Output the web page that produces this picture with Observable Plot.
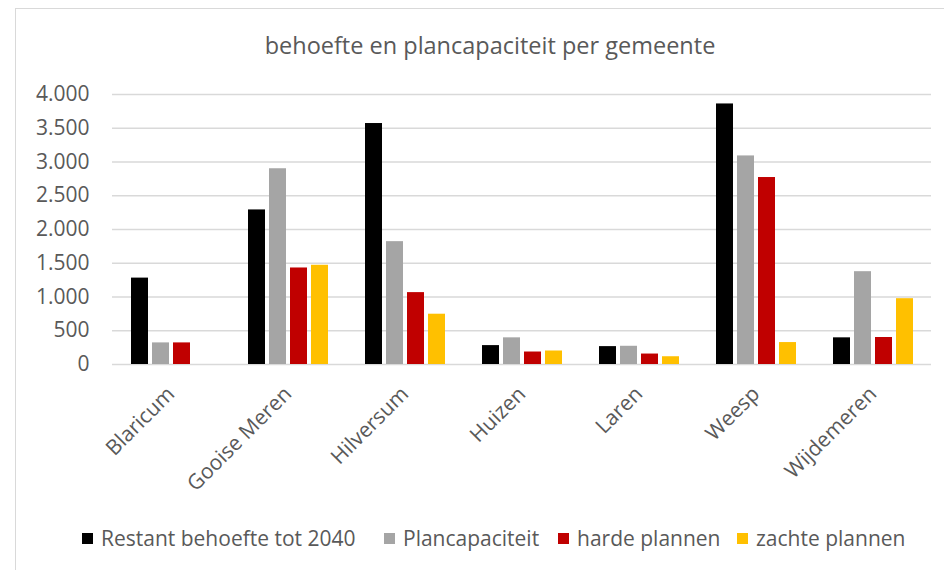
<!DOCTYPE html>
<html>
<head>
<meta charset="utf-8">
<script src="https://cdn.jsdelivr.net/npm/d3@7"></script>
<script src="https://cdn.jsdelivr.net/npm/@observablehq/plot@0.6"></script>
<style>
  html, body { margin: 0; padding: 0; background: #fff; }
  body { width: 944px; height: 570px; position: relative; overflow: hidden; font-family: "Open Sans", sans-serif; color: #595959; }
  #frame { position: absolute; left: 15px; top: 8px; width: 960px; height: 600px; border-left: 1.5px solid #d9d9d9; border-top: 1.5px solid #d9d9d9; }
  #title { position: absolute; left: 0; top: 29px; width: 980px; text-align: center; font-size: 23.5px; color: #595959; white-space: nowrap; }
  #chart { position: absolute; left: 0; top: 70px; }
  .leg { position: absolute; top: 524px; display: flex; align-items: center; font-size: 21px; color: #595959; white-space: nowrap; }
  .leg span.sw { display: inline-block; width: 11px; height: 11px; margin-right: 8px; }
</style>
</head>
<body>
<div id="frame"></div>
<div id="title">behoefte en plancapaciteit per gemeente</div>
<div id="chart"></div>
<div id="legend"></div>
<script>
const gemeenten = ["Blaricum", "Gooise Meren", "Hilversum", "Huizen", "Laren", "Weesp", "Wijdemeren"];
const series = ["Restant behoefte tot 2040", "Plancapaciteit", "harde plannen", "zachte plannen"];
const restant = [1280, 2290, 3570, 280, 265, 3860, 395];
const plancapaciteit = [320, 2900, 1820, 395, 270, 3090, 1375];
const harde = [320, 1430, 1065, 185, 155, 2770, 400];
const zachte = [0, 1470, 745, 200, 115, 325, 975];
const colors = ["#000000", "#A5A5A5", "#C00000", "#FFC000"];
const yTicks = [0, 500, 1000, 1500, 2000, 2500, 3000, 3500, 4000];
const legendLeft = [82, 384, 558, 737];

const valueArrays = [restant, plancapaciteit, harde, zachte];
const data = [];
gemeenten.forEach((g, i) => {
  series.forEach((s, j) => {
    data.push({ gemeente: g, serie: s, waarde: valueArrays[j][i] });
  });
});

const nl = d3.formatLocale({ decimal: ",", thousands: ".", grouping: [3], currency: ["€", ""] });
const fmt = nl.format(",");

const chart = Plot.plot({
  width: 944,
  height: 430,
  marginLeft: 110,
  marginRight: 11,
  marginTop: 24,
  marginBottom: 136,
  style: { fontFamily: "Open Sans, sans-serif", fontSize: "21px", color: "#595959", background: "transparent", overflow: "visible" },
  fx: { domain: gemeenten, padding: 0, label: null, tickRotate: -45, tickSize: 0, tickPadding: 26 },
  x: { domain: series, paddingInner: 0.2, paddingOuter: 0.857, axis: null },
  y: { domain: [0, 4000], ticks: yTicks, tickFormat: fmt, tickSize: 0, tickPadding: 23, label: null },
  color: { domain: series, range: colors },
  marks: [
    Plot.ruleY(yTicks, { stroke: "#d9d9d9", strokeWidth: 1.4 }),
    Plot.barY(data, { fx: "gemeente", x: "serie", y: "waarde", fill: "serie" })
  ]
});
document.getElementById("chart").appendChild(chart);

const legend = document.getElementById("legend");
series.forEach((s, j) => {
  const item = document.createElement("div");
  item.className = "leg";
  item.style.left = legendLeft[j] + "px";
  const sw = document.createElement("span");
  sw.className = "sw";
  sw.style.background = colors[j];
  item.appendChild(sw);
  const t = document.createElement("span");
  t.textContent = s;
  item.appendChild(t);
  legend.appendChild(item);
});
</script>
</body>
</html>
